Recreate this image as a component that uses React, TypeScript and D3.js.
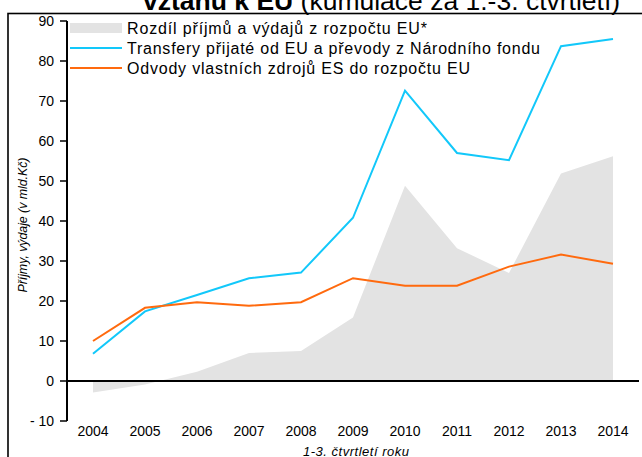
import React from "react";
import * as d3 from "d3";

const years = ["2004","2005","2006","2007","2008","2009","2010","2011","2012","2013","2014"];
const transfers = [6.8, 17.4, 21.5, 25.7, 27.1, 40.8, 72.6, 57.0, 55.2, 83.7, 85.5];
const payments = [10.0, 18.3, 19.7, 18.8, 19.7, 25.7, 23.8, 23.8, 28.6, 31.6, 29.3];
const difference = [-2.9, -0.9, 2.3, 7.0, 7.5, 15.9, 48.8, 33.2, 27.0, 51.9, 56.2];
const yTicks = [-10, 0, 10, 20, 30, 40, 50, 60, 70, 80, 90];
const legendLabels = [
  "Rozdíl příjmů a výdajů z rozpočtu EU*",
  "Transfery přijaté od EU a převody z Národního fondu",
  "Odvody vlastních zdrojů ES do rozpočtu EU",
];
const legendWidths = [300, 413, 343];

const W = 642, H = 457;
const FONT = "Arial, 'Liberation Sans', sans-serif";
const GRAY = "#e3e3e3";
const BLUE = "#12c8fa";
const ORANGE = "#ff6a0e";

export default function App() {
  const x = d3.scaleBand<string>().domain(years).range([67, 639]).padding(0);
  const cx = (y: string) => (x(y) as number) + x.bandwidth() / 2;
  const y = d3.scaleLinear().domain([-10, 90]).range([421, 21]);

  const area = d3.area<number>().x((_, i) => cx(years[i])).y0(y(0)).y1((d) => y(d));
  const line = d3.line<number>().x((_, i) => cx(years[i])).y((d) => y(d));

  const legendY = [28, 48, 68];

  return (
    <svg width={W} height={H} style={{ position: "absolute", left: 0, top: 0, background: "#fff" }} fontFamily={FONT}>
      <text x={143} y={10} fontSize={26.5} fill="#000">
        <tspan fontWeight="bold">vztahu k EU</tspan>
        <tspan> (kumulace za 1.-3. čtvrtletí)</tspan>
      </text>
      <rect x={8} y={13.5} width={W} height={H} fill="none" stroke="#000" strokeWidth={1.6} />

      <path d={area(difference) || ""} fill={GRAY} />
      <path d={line(transfers) || ""} fill="none" stroke={BLUE} strokeWidth={2} />
      <path d={line(payments) || ""} fill="none" stroke={ORANGE} strokeWidth={2} />

      {/* y axis */}
      <line x1={67} x2={67} y1={y(90)} y2={y(-10)} stroke="#000" strokeWidth={2} />
      {yTicks.map((t) => (
        <g key={t}>
          <line x1={60} x2={67} y1={y(t)} y2={y(t)} stroke="#000" strokeWidth={1.5} />
          <text x={54} y={y(t)} dy="0.35em" textAnchor="end" fontSize={14} fill="#000">
            {t < 0 ? "- " + Math.abs(t) : t}
          </text>
        </g>
      ))}
      {/* x axis at zero */}
      <line x1={67} x2={639} y1={y(0)} y2={y(0)} stroke="#000" strokeWidth={2.2} />
      {years.map((yr) => (
        <text key={yr} x={cx(yr)} y={436} textAnchor="middle" fontSize={14} fill="#000">
          {yr}
        </text>
      ))}
      <text x={303} y={456} fontSize={13} fontStyle="italic" fill="#000" textLength={106} lengthAdjust="spacing">
        1-3. čtvrtletí roku
      </text>
      <text transform={`translate(26.5,225) rotate(-90)`} textAnchor="middle" fontSize={12.5} fontStyle="italic" fill="#000" textLength={135} lengthAdjust="spacing">
        Příjmy, výdaje (v mld.Kč)
      </text>

      {/* legend */}
      <rect x={70} y={legendY[0] - 5} width={52} height={10} fill={GRAY} />
      <line x1={70} x2={122} y1={legendY[1]} y2={legendY[1]} stroke={BLUE} strokeWidth={2} />
      <line x1={70} x2={122} y1={legendY[2]} y2={legendY[2]} stroke={ORANGE} strokeWidth={2} />
      {legendLabels.map((l, i) => (
        <text key={l} x={127} y={legendY[i]} dy="0.36em" fontSize={16} fill="#000" textLength={legendWidths[i]} lengthAdjust="spacing">
          {l}
        </text>
      ))}
    </svg>
  );
}
